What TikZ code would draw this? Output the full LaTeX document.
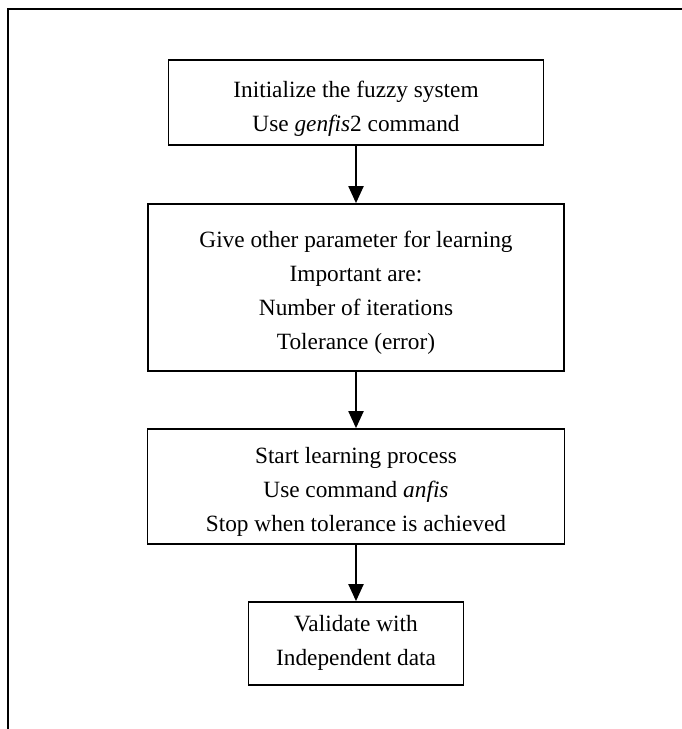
\documentclass[tikz,border=0pt]{standalone}
\usepackage{fontspec}
\setmainfont{Liberation Serif}
\usetikzlibrary{arrows.meta}
\begin{document}
\begin{tikzpicture}[x=1pt,y=-1pt,
  box/.style={draw=black,line width=1.7pt,minimum width=#1,inner sep=0pt},
  txt/.style={align=center,font=\fontsize{23.3}{34}\selectfont,inner sep=0pt},
  arr/.style={line width=2pt,-{Triangle[length=17pt,width=15pt]}},
  frame/.style={line width=2pt,line cap=rect}]
\useasboundingbox (0,0) rectangle (682,729);
\coordinate (fa) at (8,729);
\coordinate (fb) at (8,9);
\coordinate (fc) at (682,9);
\draw[frame] (fa) -- (fb) -- (fc);
\node[box=375pt,minimum height=85pt] (b1) at (356,102.5) {};
\node[box=416pt,minimum height=167pt] (b2) at (356,287.5) {};
\node[box=417pt,minimum height=115pt] (b3) at (356,486.5) {};
\node[box=215pt,minimum height=83pt] (b4) at (356,643.5) {};
\node[txt] (t1) at (356,109) {Initialize the fuzzy system\\Use \textit{genfis}2 command};
\node[txt] (t2) at (356,293) {Give other parameter for learning\\Important are:\\Number of iterations\\Tolerance (error)};
\node[txt] (t3) at (356,492) {Start learning process\\Use command \textit{anfis}\\Stop when tolerance is achieved};
\node[txt] (t4) at (356,642.5) {Validate with\\Independent data};
\draw[arr] (b1) -- (b2);
\draw[arr] (b2) -- (b3);
\draw[arr] (b3) -- (b4);
\end{tikzpicture}
\end{document}
